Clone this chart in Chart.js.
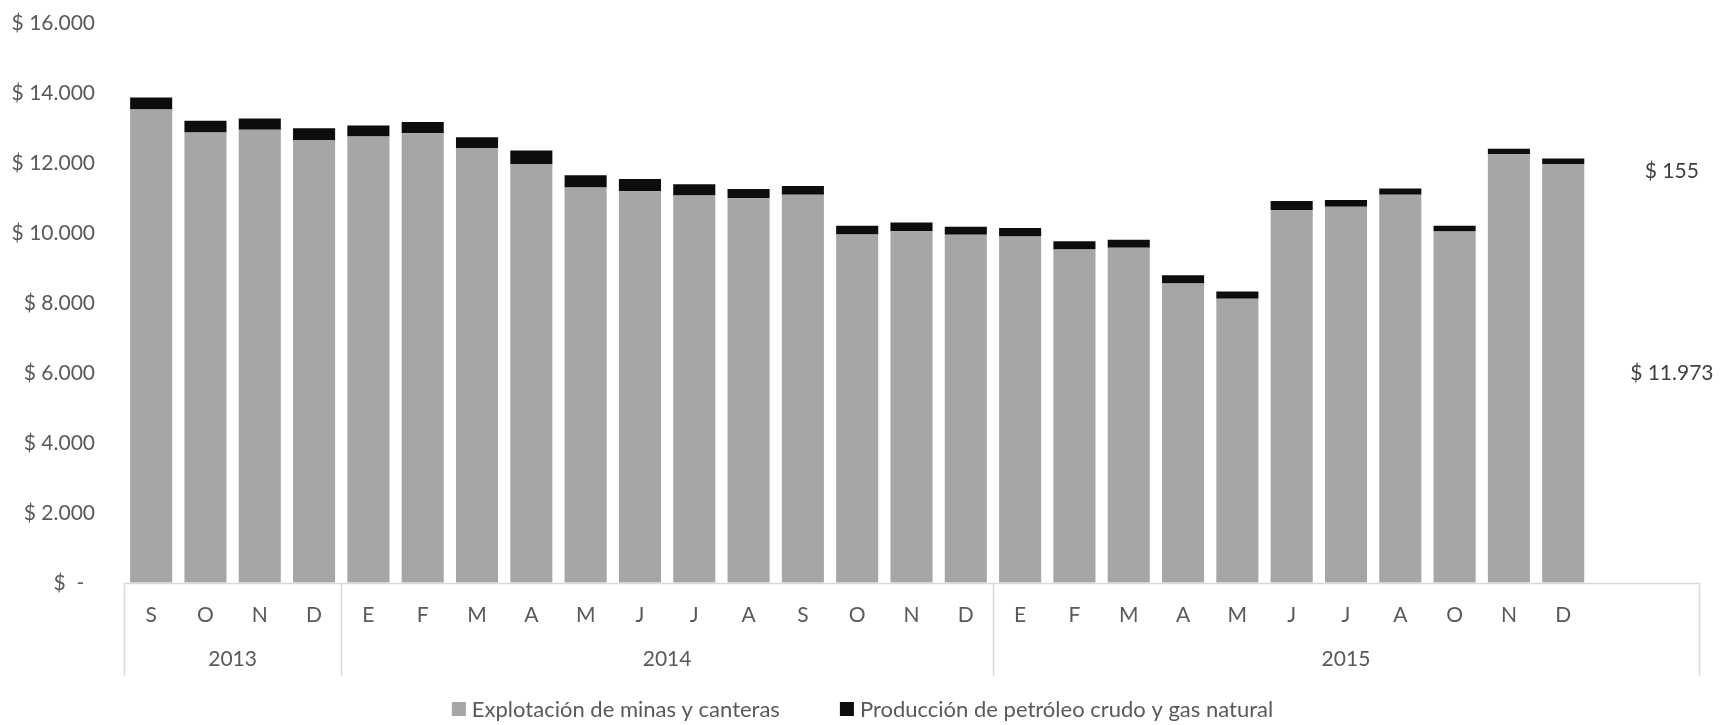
<!DOCTYPE html>
<html>
<head>
<meta charset="utf-8">
<script src="https://cdn.jsdelivr.net/npm/chart.js@4/dist/chart.umd.min.js"></script>
<style>
  html, body { margin: 0; padding: 0; background: #fff; }
  #wrap { width: 1735px; height: 725px; }
</style>
</head>
<body>
<div id="wrap"><canvas id="grafico"></canvas></div>
<script>
// meses (la última categoría vacía y la de resumen no llevan rótulo)
const meses = ['S','O','N','D',
  'E','F','M','A','M','J','J','A','S','O','N','D',
  'E','F','M','A','M','J','J','A','O','N','D','',''];
const anios = ['2013', '2014', '2015'];
const mesesPorAnio = [4, 12, 13];

// valores en millones de $
const mineria = [13530, 12870, 12950, 12660, 12760, 12850, 12430, 11970,
  11300, 11190, 11070, 10990, 11090, 9960, 10050, 9950,
  9900, 9530, 9580, 8560, 8120, 10650, 10750, 11090, 10040, 12250, 11973,
  null, 11973];
const petroleo = [345, 335, 325, 335, 315, 325, 305, 390,
  350, 350, 325, 265, 255, 250, 250, 230,
  240, 235, 230, 230, 210, 265, 190, 180, 165, 160, 155,
  null, 155];
const indiceResumen = 28;

const ticksY = [0, 2000, 4000, 6000, 8000, 10000, 12000, 14000, 16000];

const FUENTE = 'Lato, "Open Sans", sans-serif';
const GRIS = '#a6a6a6';
const NEGRO = '#0d0d0d';

function pesos(v) {
  return '$ ' + String(Math.round(v)).replace(/\B(?=(\d{3})+(?!\d))/g, '.');
}

function colores(base) {
  return mineria.map((v, i) => i === indiceResumen ? 'rgba(0,0,0,0)' : base);
}

// eje con meses agrupados por año, rótulos de resumen y leyenda
const ejeAgrupado = {
  id: 'ejeAgrupado',
  afterDraw(chart) {
    const { ctx, chartArea: a, scales: { x, y } } = chart;
    const paso = x.getPixelForValue(1) - x.getPixelForValue(0);
    ctx.save();

    // líneas del eje
    const cortes = [a.left];
    let n = 0;
    mesesPorAnio.forEach(m => { n += m; cortes.push(x.getPixelForValue(n - 1) + paso / 2); });
    ctx.strokeStyle = '#d9d9d9';
    ctx.lineWidth = 1.5;
    ctx.beginPath();
    ctx.moveTo(a.left, a.bottom + 0.5);
    ctx.lineTo(a.right, a.bottom + 0.5);
    cortes.forEach(px => {
      ctx.moveTo(Math.round(px) + 0.5, a.bottom);
      ctx.lineTo(Math.round(px) + 0.5, a.bottom + 93);
    });
    ctx.stroke();

    // meses y años
    ctx.fillStyle = '#595959';
    ctx.font = '21px ' + FUENTE;
    ctx.textAlign = 'center';
    ctx.textBaseline = 'middle';
    meses.forEach((m, i) => ctx.fillText(m, x.getPixelForValue(i), a.bottom + 32));
    anios.forEach((t, i) => ctx.fillText(t, (cortes[i] + cortes[i + 1]) / 2, a.bottom + 76));

    // rótulos de la última columna
    ctx.fillStyle = '#404040';
    const cx = x.getPixelForValue(indiceResumen);
    const base = mineria[indiceResumen];
    const extra = petroleo[indiceResumen];
    ctx.fillText(pesos(base), cx, y.getPixelForValue(base / 2));
    ctx.fillText(pesos(extra), cx, y.getPixelForValue(base + extra / 2) + 10);

    // leyenda
    ctx.font = '22px ' + FUENTE;
    ctx.textAlign = 'left';
    const caja = 14, sep = 6, hueco = 60;
    const items = chart.data.datasets.map(d => ({
      texto: d.label, color: d.backgroundColor[0],
      ancho: caja + sep + ctx.measureText(d.label).width
    }));
    const total = items.reduce((s, it) => s + it.ancho, 0) + hueco * (items.length - 1);
    let lx = chart.width / 2 - total / 2 - 5;
    const ly = 709;
    items.forEach(it => {
      ctx.fillStyle = it.color;
      ctx.fillRect(lx, ly - caja / 2, caja, caja);
      ctx.fillStyle = '#595959';
      ctx.fillText(it.texto, lx + caja + sep, ly + 1);
      lx += it.ancho + hueco;
    });
    ctx.restore();
  }
};

new Chart(document.getElementById('grafico'), {
  type: 'bar',
  data: {
    labels: meses,
    datasets: [
      {
        label: 'Explotación de minas y canteras',
        data: mineria,
        backgroundColor: colores(GRIS),
        borderWidth: 0,
        categoryPercentage: 1,
        barPercentage: 0.775
      },
      {
        label: 'Producción de petróleo crudo y gas natural',
        data: petroleo,
        backgroundColor: colores(NEGRO),
        borderWidth: 0,
        categoryPercentage: 1,
        barPercentage: 0.775
      }
    ]
  },
  options: {
    responsive: true,
    maintainAspectRatio: false,
    animation: false,
    layout: { padding: { left: 0, right: 36, top: 23, bottom: 142 } },
    plugins: {
      legend: { display: false },
      tooltip: { enabled: false }
    },
    scales: {
      x: {
        stacked: true,
        display: false
      },
      y: {
        stacked: true,
        min: 0,
        max: 16000,
        afterBuildTicks: s => { s.ticks = ticksY.map(v => ({ value: v })); },
        afterFit: s => { s.width = 124; },
        grid: {
          display: true,
          drawOnChartArea: false,
          drawTicks: true,
          tickLength: 29,
          color: 'rgba(0,0,0,0)'
        },
        border: { display: false },
        ticks: {
          padding: 0,
          color: '#595959',
          font: { family: FUENTE, size: 21 },
          callback: v => v === 0 ? '$  -  ' : pesos(v)
        }
      }
    }
  },
  plugins: [ejeAgrupado]
});
</script>
</body>
</html>
